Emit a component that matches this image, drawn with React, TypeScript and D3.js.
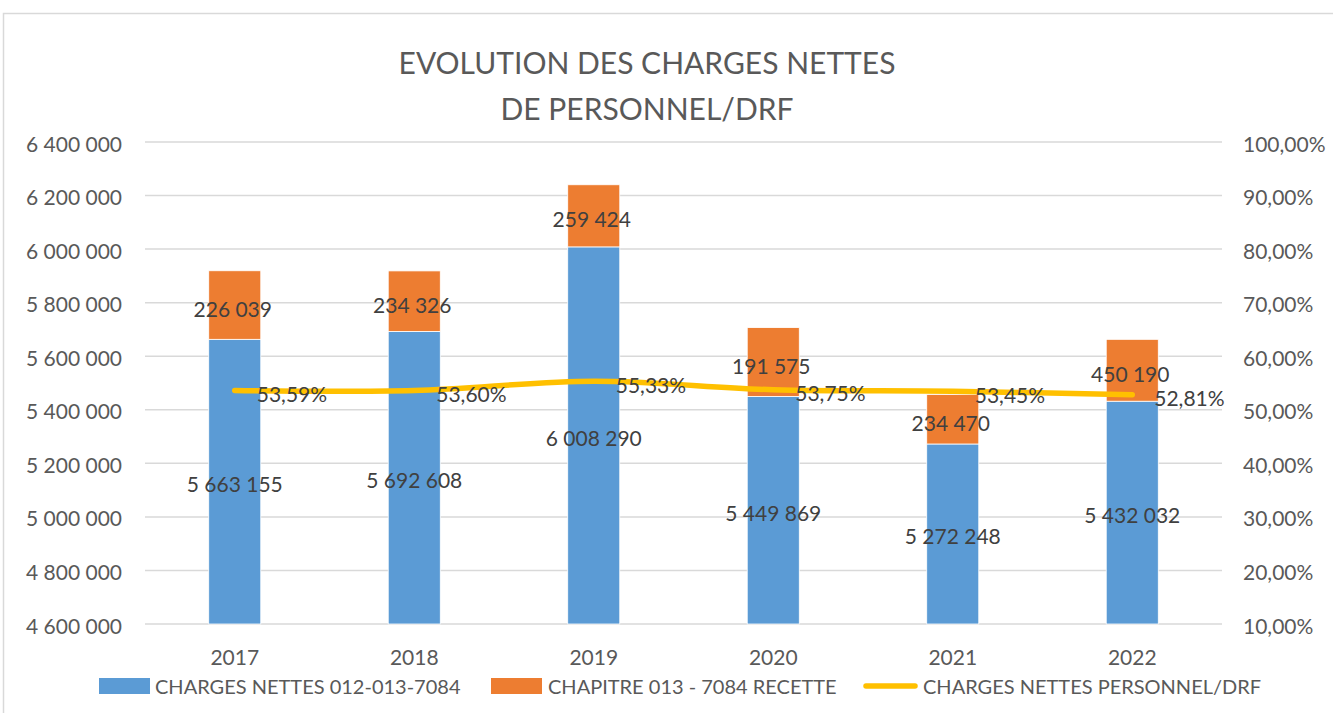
import * as d3 from 'd3'

// données
const years = ['2017', '2018', '2019', '2020', '2021', '2022']
const chargesNettes = [5663155, 5692608, 6008290, 5449869, 5272248, 5432032]
// hauteur des segments orange telle que dessinée
const chapitreHeights = [256000, 226000, 232000, 257000, 185000, 231000]
// étiquettes affichées sur les segments orange
const chapitreLabels = [226039, 234326, 259424, 191575, 234470, 450190]
const ratioDrf = [53.59, 53.6, 55.33, 53.75, 53.45, 52.81]
const titleLines = ['EVOLUTION DES CHARGES NETTES', 'DE PERSONNEL/DRF']
const legendLabels = [
  'CHARGES NETTES 012-013-7084',
  'CHAPITRE 013 - 7084 RECETTE',
  'CHARGES NETTES PERSONNEL/DRF',
]

const BLUE = '#5B9BD5'
const ORANGE = '#ED7D31'
const YELLOW = '#FFC000'
const GRID = '#D9D9D9'
const AXIS_TXT = '#595959'
const LABEL_TXT = '#404040'
const FONT = 'Lato, "Open Sans", sans-serif'

const fr = d3.formatLocale({
  decimal: ',',
  thousands: ' ',
  grouping: [3],
  currency: ['', ' €'],
})
const fmtInt = fr.format(',d')
const fmtPct = (v: number) => fr.format('.2f')(v) + '%'

export default function App() {
  const width = 1333
  const height = 713
  const left = 145
  const right = 1222
  const top = 142
  const bottom = 624

  const x = d3.scaleBand<string>().domain(years).range([left, right]).padding(0)
  const barW = x.bandwidth() * 0.29
  const yLeft = d3.scaleLinear().domain([4600000, 6400000]).range([bottom, top])
  const yRight = d3.scaleLinear().domain([10, 100]).range([bottom, top])
  const leftTicks = yLeft.ticks(9)
  const rightTicks = yRight.ticks(9)

  const cx = (i: number) => (x(years[i]) as number) + x.bandwidth() / 2

  const line = d3
    .line<number>()
    .x((_, i) => cx(i))
    .y((d) => yRight(d))
    .curve(d3.curveCatmullRom.alpha(0.5))

  return (
    <svg
      width={width}
      height={height}
      style={{ position: 'absolute', left: 0, top: 0, background: '#fff' }}
      fontFamily={FONT}
    >
      <rect x={3.5} y={13.5} width={1340} height={710} fill="#fff" stroke={GRID} strokeWidth={1.5} />

      {/* titre */}
      {titleLines.map((t, i) => (
        <text
          key={t}
          x={647}
          y={62 + i * 46}
          textAnchor="middle"
          dominantBaseline="central"
          fontSize={30}
          fontWeight={400}
          fill={AXIS_TXT}
        >
          {t}
        </text>
      ))}

      {/* grille */}
      {leftTicks.map((t) => (
        <line key={t} x1={left} x2={right} y1={yLeft(t)} y2={yLeft(t)} stroke={GRID} strokeWidth={1.5} />
      ))}

      {/* axe gauche */}
      {leftTicks.map((t) => (
        <text
          key={'l' + t}
          x={122}
          y={yLeft(t) + 1}
          textAnchor="end"
          dominantBaseline="central"
          fontSize={21}
          fill={AXIS_TXT}
        >
          {fmtInt(t)}
        </text>
      ))}

      {/* axe droit */}
      {rightTicks.map((t) => (
        <text
          key={'r' + t}
          x={1243}
          y={yRight(t) + 1}
          textAnchor="start"
          dominantBaseline="central"
          fontSize={21}
          fill={AXIS_TXT}
        >
          {fmtPct(t)}
        </text>
      ))}

      {/* barres empilées */}
      {years.map((yr, i) => {
        const bx = cx(i) - barW / 2
        const blueTop = yLeft(chargesNettes[i])
        const orangeTop = yLeft(chargesNettes[i] + chapitreHeights[i])
        return (
          <g key={yr}>
            <rect x={bx} y={blueTop} width={barW} height={bottom - blueTop} fill={BLUE} stroke="#fff" strokeWidth={0.8} />
            <rect x={bx} y={orangeTop} width={barW} height={blueTop - orangeTop} fill={ORANGE} stroke="#fff" strokeWidth={0.8} />
          </g>
        )
      })}

      {/* courbe ratio */}
      <path d={line(ratioDrf) || ''} fill="none" stroke={YELLOW} strokeWidth={5.5} strokeLinecap="round" />

      {/* étiquettes */}
      {years.map((yr, i) => {
        const blueTop = yLeft(chargesNettes[i])
        const orangeTop = yLeft(chargesNettes[i] + chapitreHeights[i])
        return (
          <g key={'lab' + yr} fontSize={21} fill={LABEL_TXT}>
            <text x={cx(i)} y={(blueTop + bottom) / 2 + 2} textAnchor="middle" dominantBaseline="central">
              {fmtInt(chargesNettes[i])}
            </text>
            <text x={cx(i) - 2} y={(orangeTop + blueTop) / 2 + 3} textAnchor="middle" dominantBaseline="central">
              {fmtInt(chapitreLabels[i])}
            </text>
            <text x={cx(i) + 22} y={yRight(ratioDrf[i]) + 3} textAnchor="start" dominantBaseline="central">
              {fmtPct(ratioDrf[i])}
            </text>
          </g>
        )
      })}

      {/* axe des catégories */}
      {years.map((yr, i) => (
        <text key={'x' + yr} x={cx(i)} y={656} textAnchor="middle" dominantBaseline="central" fontSize={21} fill={AXIS_TXT}>
          {yr}
        </text>
      ))}

      {/* légende */}
      <g fontSize={20} fill={AXIS_TXT}>
        <rect x={99} y={678} width={51} height={16} fill={BLUE} />
        <text x={155} y={686} dominantBaseline="central">{legendLabels[0]}</text>
        <rect x={491} y={678} width={51} height={16} fill={ORANGE} />
        <text x={548} y={686} dominantBaseline="central">{legendLabels[1]}</text>
        <line x1={866} x2={915} y1={686} y2={686} stroke={YELLOW} strokeWidth={5.5} strokeLinecap="round" />
        <text x={923} y={686} dominantBaseline="central">{legendLabels[2]}</text>
      </g>
    </svg>
  )
}
